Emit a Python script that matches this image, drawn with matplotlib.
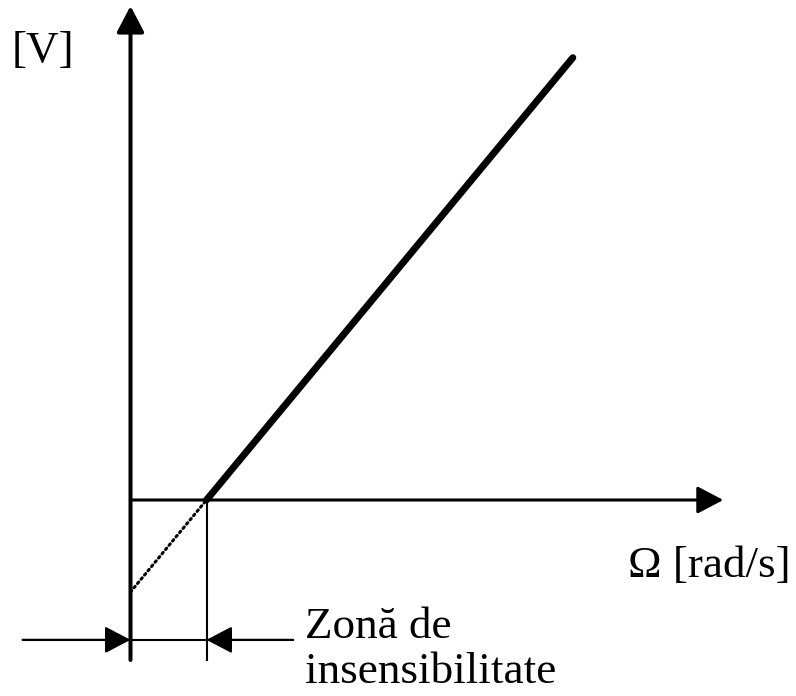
"""
Caracteristica unui traductor de viteza cu zona de insensibilitate
"""
import matplotlib
matplotlib.use("Agg")
import matplotlib.pyplot as plt

# date (unitati arbitrare)
omega_prag = 1.0                  # capatul zonei de insensibilitate
omega_caract = [1.0, 5.82]        # portiunea liniara
v_caract = [0.0, 5.82]
omega_extrap = [0.0, 1.0]         # prelungirea punctata
v_extrap = [-1.21, 0.0]

# limite axe (desen schematic)
x_axa_max = 7.80
y_axa_max = 6.50
y_axa_min = -2.105
y_cota = -1.84
x_cota = [-1.42, 2.14]

plt.rcParams['font.family'] = ['Liberation Serif', 'DejaVu Serif']

fig = plt.figure(figsize=(7.96, 6.96), dpi=100)
ax = fig.add_axes([0, 0, 1, 1])
ax.set_xlim(-130.5 / 76, (796 - 130.5) / 76)
ax.set_ylim((500 - 696) / 76, 500 / 76)
ax.axis('off')

stil = dict(arrowstyle='-|>,head_length=0.8,head_width=0.42',
            mutation_scale=20, color='black', shrinkA=0, shrinkB=0)

# axa verticala
ax.annotate('', xy=(0, y_axa_max), xytext=(0, y_axa_min),
            arrowprops=dict(lw=2.9, **stil))
# axa orizontala
ax.annotate('', xy=(x_axa_max, 0), xytext=(0, 0),
            arrowprops=dict(lw=2.2, **stil))

# caracteristica
ax.plot(omega_caract, v_caract, color='black', lw=5, solid_capstyle='round')
ax.plot(omega_extrap, v_extrap, color='black', lw=2.2,
        linestyle=(0, (0.6, 1.2)), dash_capstyle='round')

# linie de cota verticala
ax.plot([omega_prag, omega_prag], [0, y_axa_min], color='black', lw=1.5)

# cota zonei de insensibilitate
ax.plot(x_cota, [y_cota, y_cota], color='black', lw=1.5)
ax.annotate('', xy=(0, y_cota), xytext=(x_cota[0], y_cota),
            arrowprops=dict(lw=1.5, **stil))
ax.annotate('', xy=(omega_prag, y_cota), xytext=(x_cota[1], y_cota),
            arrowprops=dict(lw=1.5, **stil))

fs = 32.5
ax.text(-1.57, 5.76, '[V]', fontsize=fs, ha='left', va='baseline')
ax.text(8.68, -1.01, 'Ω [rad/s]', fontsize=fs, ha='right', va='baseline')
ax.text(2.30, -1.82, 'Zonă de', fontsize=fs, ha='left', va='baseline')
ax.text(2.30, -2.41, 'insensibilitate', fontsize=fs, ha='left', va='baseline')

fig.savefig('out.png', dpi=100)
